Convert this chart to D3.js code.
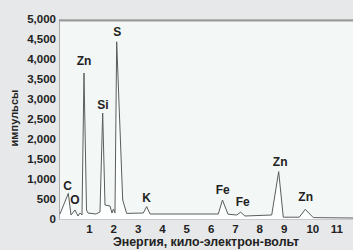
<!DOCTYPE html>
<html>
<head>
<meta charset="utf-8">
<script src="https://cdn.jsdelivr.net/npm/d3@7"></script>
<style>
  body { margin: 0; background: #e7e8e9; }
  svg { display: block; }
  text { font-family: "Liberation Sans", Arial, sans-serif; font-weight: bold; fill: #222; }
</style>
</head>
<body>
<div id="chart"></div>
<script>
// energy (keV) and counts of the trace
var energy = [-0.19, 0.152, 0.263, 0.427, 0.55, 0.633, 0.715, 0.797, 0.9, 0.961, 1.29, 1.454, 1.565, 1.66, 1.865, 1.947, 2.009, 2.07, 2.14, 2.387, 2.55, 3.233, 3.373, 3.509, 6.315, 6.487, 6.713, 7.07, 7.235, 7.41, 8.51, 8.796, 8.985, 9.64, 9.889, 10.22, 11.85];
var counts = [125, 640, 100, 225, 75, 150, 100, 3650, 225, 150, 125, 175, 2650, 350, 325, 150, 250, 150, 4430, 475, 140, 150, 310, 125, 125, 475, 120, 100, 170, 75, 100, 1185, 45, 45, 240, 35, 25];

var yTicks = [0, 500, 1000, 1500, 2000, 2500, 3000, 3500, 4000, 4500, 5000];
var xTicks = [1, 2, 3, 4, 5, 6, 7, 8, 9, 10, 11];

// peak labels
var peakNames = ["C", "O", "Zn", "Si", "S", "K", "Fe", "Fe", "Zn", "Zn"];
var peakE = [0.127, 0.427, 0.797, 1.578, 2.165, 3.373, 6.496, 7.317, 8.857, 9.905];
var peakLabelCounts = [825, 490, 3950, 2850, 4670, 520, 725, 420, 1430, 560];

var width = 353, height = 250;
var svg = d3.select("#chart").append("svg")
    .attr("width", width)
    .attr("height", height);

var x = d3.scaleLinear().domain([0, 11.85]).range([64.6, 353]);
var y = d3.scaleLinear().domain([0, 5000]).range([219, 19]);

var data = energy.map(function(e, i){ return {e: e, c: counts[i]}; });

// plot panel
svg.append("rect")
    .attr("x", 59.5).attr("y", 20)
    .attr("width", width - 59).attr("height", 199)
    .attr("fill", "#f3f8f7")
    .attr("stroke", "#aaa")
    .attr("stroke-width", 1);
svg.append("line")
    .attr("x1", 59).attr("x2", width)
    .attr("y1", 20.5).attr("y2", 20.5)
    .attr("stroke", "#999").attr("stroke-width", 2);

svg.append("path")
    .datum(data)
    .attr("fill", "#fdfefe")
    .attr("d", d3.area()
      .x(function(d){ return x(d.e); })
      .y0(y(0))
      .y1(function(d){ return y(d.c); }));

svg.append("path")
    .datum(data)
    .attr("fill", "none")
    .attr("stroke", "#5a5d5e")
    .attr("stroke-width", 1)
    .attr("d", d3.line()
      .x(function(d){ return x(d.e); })
      .y(function(d){ return y(d.c); }));

// y axis
var yAxis = svg.append("g")
    .attr("transform", "translate(56,0)")
    .call(d3.axisLeft(y).tickValues(yTicks).tickFormat(d3.format(",")).tickSize(0).tickPadding(0));
yAxis.select(".domain").remove();
yAxis.selectAll("text").attr("font-size", "11.5px").attr("fill", "#222");

// x axis
var xAxis = svg.append("g")
    .attr("transform", "translate(0,225)")
    .call(d3.axisBottom(x).tickValues(xTicks).tickFormat(d3.format("d")).tickSize(0).tickPadding(0));
xAxis.select(".domain").remove();
xAxis.selectAll("text").attr("font-size", "11.5px").attr("fill", "#222");
xAxis.selectAll("text").filter(function(d){ return d >= 10; })
    .attr("text-anchor", "start").attr("dx", -2);

svg.append("text")
    .attr("x", 206).attr("y", 246)
    .attr("text-anchor", "middle")
    .attr("font-size", "12.4px")
    .text("Энергия, кило-электрон-вольт");

svg.append("text")
    .attr("transform", "translate(18,118) rotate(-90)")
    .attr("text-anchor", "middle")
    .attr("font-size", "11px")
    .text("импульсы");

svg.selectAll(".peak")
    .data(peakNames)
    .enter().append("text")
    .attr("class", "peak")
    .attr("x", function(d, i){ return x(peakE[i]); })
    .attr("y", function(d, i){ return y(peakLabelCounts[i]); })
    .attr("dy", "0.35em")
    .attr("text-anchor", "middle")
    .attr("font-size", "12px")
    .text(function(d){ return d; });
</script>
</body>
</html>
